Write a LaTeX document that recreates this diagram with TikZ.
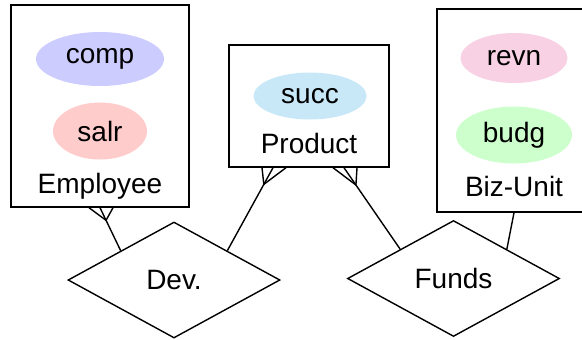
\documentclass[tikz,border=0pt]{standalone}
\usepackage{fontspec}
\setmainfont{Liberation Sans}
\usetikzlibrary{shapes.geometric,calc}

\definecolor{compfill}{RGB}{204,204,255}
\definecolor{salrfill}{RGB}{255,204,204}
\definecolor{succfill}{RGB}{200,232,248}
\definecolor{revnfill}{RGB}{248,210,228}
\definecolor{budgfill}{RGB}{204,255,204}

\tikzset{
  entity/.style={draw, line width=0.7pt, inner sep=0pt},
  attr/.style={ellipse, inner sep=0pt},
  relation/.style={diamond, draw, line width=0.7pt, inner sep=0pt,
                   minimum width=106pt, minimum height=58pt},
  caption/.style={anchor=base, inner sep=0pt},
  link/.style={line width=0.7pt},
}

% crow's foot ("many") end: #1 point on the entity, #2 relation end, #3 foot length
\newcommand\manylink[3]{%
  \draw[link] (#1) -- (#2);
  \draw[link] ($(#1)+(-11,0)$) -- ($(#1)!#3!(#2)$) -- ($(#1)+(13,0)$);
}

\begin{document}
\begin{tikzpicture}[x=0.5pt, y=-0.5pt, font=\fontsize{14}{16}\selectfont]
  \useasboundingbox (0,0) rectangle (582,339);

  % entities
  \node[entity, minimum width=89pt, minimum height=101pt] (emp) at (100,106) {};
  \node[attr, fill=compfill, minimum width=64pt, minimum height=27pt] (comp) at (100,59) {comp};
  \node[attr, fill=salrfill, minimum width=47pt, minimum height=28.5pt] (salr) at (100,131) {salr};
  \node[caption] (emplbl) at (100,193) {Employee};

  \node[entity, minimum width=80pt, minimum height=61pt] (prod) at (309,106) {};
  \node[attr, fill=succfill, minimum width=56.5pt, minimum height=23.5pt] (succ) at (310,96) {succ};
  \node[caption] (prodlbl) at (309,153) {Product};

  \node[entity, minimum width=77pt, minimum height=101.5pt] (biz) at (514,110.5) {};
  \node[attr, fill=revnfill, minimum width=53.5pt, minimum height=25pt] (revn) at (514,58) {revn};
  \node[attr, fill=budgfill, minimum width=58pt, minimum height=28.5pt] (budg) at (514,135) {budg};
  \node[caption] (bizlbl) at (514,196) {Biz-Unit};

  % relationships
  \node[relation] (dev) at (174,280) {Dev.};
  \node[relation] (funds) at (453.5,278.5) {Funds};

  % attachment points
  \coordinate (devnw) at ($(dev.west)!0.5!(dev.north)$);
  \coordinate (devne) at ($(dev.east)!0.5!(dev.north)$);
  \coordinate (fundsnw) at ($(funds.west)!0.5!(funds.north)$);
  \coordinate (fundsne) at ($(funds.east)!0.5!(funds.north)$);
  \coordinate (empend) at (emp.south);
  \coordinate (prodleft) at ($(prod.south)+(-36,0)$);
  \coordinate (prodright) at ($(prod.south)+(35,0)$);

  % connectors
  \manylink{empend}{devnw}{7pt}
  \manylink{prodleft}{devne}{9.5pt}
  \manylink{prodright}{fundsnw}{10.5pt}
  \draw[link] (fundsne) -- (biz.south);
\end{tikzpicture}
\end{document}
